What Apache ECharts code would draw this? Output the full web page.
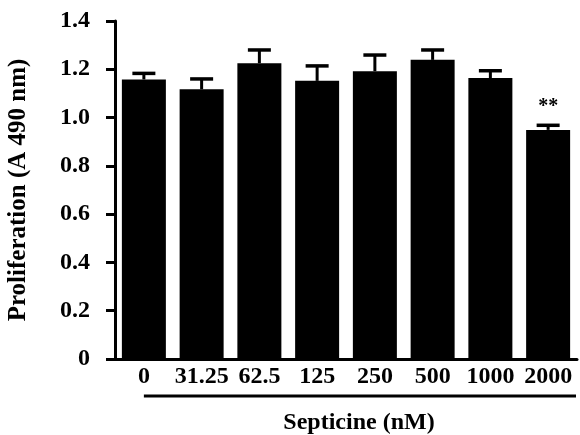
<!DOCTYPE html>
<html>
<head>
<meta charset="utf-8">
<script src="https://cdn.jsdelivr.net/npm/echarts@6/dist/echarts.min.js"></script>
<style>
  html, body { margin: 0; padding: 0; background: #fff; }
  #chart { width: 580px; height: 435px; }
</style>
</head>
<body>
<div id="chart"></div>
<script>
var doses = ['0', '31.25', '62.5', '125', '250', '500', '1000', '2000'];
var means = [1.158, 1.117, 1.225, 1.152, 1.192, 1.239, 1.164, 0.949];
var errors = [0.025, 0.043, 0.055, 0.062, 0.067, 0.041, 0.030, 0.019];
var marks = ['', '', '', '', '', '', '', '**'];

var font = '"Liberation Serif", "Times New Roman", serif';
var chart = echarts.init(document.getElementById('chart'));

var errData = means.map(function (m, i) {
    return [i, m, m + errors[i]];
});

var option = {
    animation: false,
    grid: { left: 115, right: 3, top: 21, bottom: 76, outerBoundsMode: 'none', containLabel: false },
    xAxis: {
        type: 'category',
        data: doses,
        name: 'Septicine (nM)',
        nameLocation: 'middle',
        nameGap: 52,
        nameTextStyle: { fontFamily: font, fontWeight: 'bold', fontSize: 24, color: '#000', padding: [0, 0, 0, 26] },
        axisLine: { lineStyle: { color: '#000', width: 3 } },
        axisTick: { show: false },
        axisLabel: { interval: 0, fontFamily: font, fontWeight: 'bold', fontSize: 24, color: '#000', margin: 6 }
    },
    yAxis: {
        type: 'value',
        min: 0,
        max: 1.4,
        interval: 0.2,
        name: 'Proliferation (A 490 nm)',
        nameLocation: 'middle',
        nameGap: 84,
        nameTextStyle: { fontFamily: font, fontWeight: 'bold', fontSize: 25, color: '#000' },
        axisLine: { show: true, lineStyle: { color: '#000', width: 3 } },
        axisTick: { show: true, inside: false, length: 9, lineStyle: { color: '#000', width: 3 } },
        splitLine: { show: false },
        axisLabel: {
            fontFamily: font, fontWeight: 'bold', fontSize: 24, color: '#000', margin: 25,
            formatter: function (v) { return v === 0 ? '0' : v.toFixed(1); }
        }
    },
    series: [
        {
            type: 'bar',
            data: means,
            barWidth: 44,
            itemStyle: { color: '#000' },
            z: 2
        },
        {
            type: 'custom',
            data: errData,
            z: 3,
            renderItem: function (params, api) {
                var x = api.value(0);
                var base = api.coord([x, api.value(1)]);
                var top = api.coord([x, api.value(2)]);
                var half = 11.5;
                var children = [
                    { type: 'line', shape: { x1: top[0], y1: base[1], x2: top[0], y2: top[1] },
                      style: { stroke: '#000', lineWidth: 3 } },
                    { type: 'line', shape: { x1: top[0] - half, y1: top[1], x2: top[0] + half, y2: top[1] },
                      style: { stroke: '#000', lineWidth: 3.5 } }
                ];
                var m = marks[params.dataIndex];
                if (m) {
                    children.push({
                        type: 'text',
                        style: {
                            text: m, x: top[0], y: top[1] - 8,
                            align: 'center', verticalAlign: 'bottom',
                            font: 'bold 20px ' + font, fill: '#000'
                        }
                    });
                }
                return { type: 'group', children: children };
            }
        }
    ]
};
chart.setOption(option);

// bracket line under the dose labels
var p0 = chart.convertToPixel({ xAxisIndex: 0 }, 0);
chart.setOption({
    graphic: [{
        type: 'line',
        shape: { x1: p0, y1: 396, x2: 576, y2: 396 },
        style: { stroke: '#000', lineWidth: 3 }
    }]
});
</script>
</body>
</html>
